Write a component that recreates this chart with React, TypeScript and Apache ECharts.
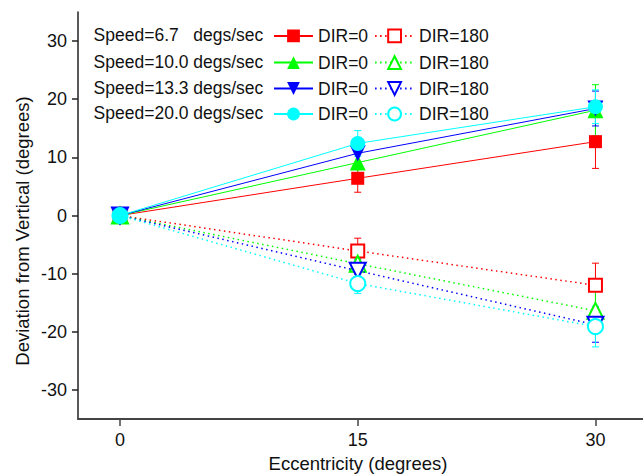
import React, { useEffect, useRef } from "react";
import * as echarts from "echarts";

const eccentricity = [0, 15, 30];
const speedLabels = ["Speed=6.7", "Speed=10.0", "Speed=13.3", "Speed=20.0"];
const speedUnit = "degs/sec";
const colors = ["#ff0000", "#00ff00", "#0000ff", "#00ffff"];
const filledSymbols = ["rect", "triangle", "triangle", "circle"];
const emptySymbols = ["emptyRect", "emptyTriangle", "emptyTriangle", "emptyCircle"];
const symbolRotations = [0, 0, 180, 0];
const symbolSizes = [13, 16, 16, 15];

// DIR = 0 means
const dir0Speed67 = [0, 6.4, 12.7];
const dir0Speed100 = [0, 9.1, 18.1];
const dir0Speed133 = [0, 10.7, 18.4];
const dir0Speed200 = [0, 12.4, 18.7];
// DIR = 180 means
const dir180Speed67 = [0, -6.1, -12.0];
const dir180Speed100 = [0, -8.3, -16.4];
const dir180Speed133 = [0, -9.5, -18.8];
const dir180Speed200 = [0, -11.7, -19.1];
// errors
const err0Speed67 = [0.5, 2.4, 4.6];
const err0Speed100 = [0.5, 1.8, 4.4];
const err0Speed133 = [0.5, 2.0, 3.0];
const err0Speed200 = [0.5, 2.2, 2.9];
const err180Speed67 = [0.5, 2.2, 3.8];
const err180Speed100 = [0.5, 1.8, 3.5];
const err180Speed133 = [0.5, 2.0, 3.0];
const err180Speed200 = [0.5, 1.7, 3.5];

const yTicks = [-30, -20, -10, 0, 10, 20, 30];
const xTicks = [0, 15, 30];
const yTitle = "Deviation from Vertical (degrees)";
const xTitle = "Eccentricity (degrees)";

const dir0Means = [dir0Speed67, dir0Speed100, dir0Speed133, dir0Speed200];
const dir180Means = [dir180Speed67, dir180Speed100, dir180Speed133, dir180Speed200];
const dir0Errs = [err0Speed67, err0Speed100, err0Speed133, err0Speed200];
const dir180Errs = [err180Speed67, err180Speed100, err180Speed133, err180Speed200];

const FONT = "'Liberation Sans', Arial, sans-serif";

export default function App() {
  const ref = useRef<HTMLDivElement>(null);
  useEffect(() => {
    if (!ref.current) return;
    const chart = echarts.init(ref.current, null, { renderer: "svg" });

    const series: any[] = [];
    const errorSeries = (means: number[], errs: number[], color: string) => ({
      type: "custom",
      silent: true,
      z: 1,
      data: eccentricity.map((x, i) => [x, means[i] - errs[i], means[i] + errs[i]]),
      encode: { x: 0, y: [1, 2] },
      renderItem: (params: any, api: any) => {
        const lo = api.coord([api.value(0), api.value(1)]);
        const hi = api.coord([api.value(0), api.value(2)]);
        const hw = 3.5;
        const st = { stroke: color, lineWidth: 1 };
        return {
          type: "group",
          children: [
            { type: "line", shape: { x1: lo[0], y1: lo[1], x2: hi[0], y2: hi[1] }, style: st },
            { type: "line", shape: { x1: lo[0] - hw, y1: lo[1], x2: lo[0] + hw, y2: lo[1] }, style: st },
            { type: "line", shape: { x1: hi[0] - hw, y1: hi[1], x2: hi[0] + hw, y2: hi[1] }, style: st },
          ],
        };
      },
    });

    for (let s = 0; s < 4; s++) {
      series.push(errorSeries(dir0Means[s], dir0Errs[s], colors[s]));
      series.push(errorSeries(dir180Means[s], dir180Errs[s], colors[s]));
    }
    const legends: any[] = [];
    for (let s = 0; s < 4; s++) {
      const c = colors[s];
      const n0 = `${speedLabels[s]}|0`;
      const n180 = `${speedLabels[s]}|180`;
      series.push({
        type: "line",
        name: n180,
        data: eccentricity.map((x, i) => [x, dir180Means[s][i]]),
        symbol: emptySymbols[s],
        symbolSize: symbolSizes[s],
        symbolRotate: symbolRotations[s],
        lineStyle: { color: c, width: 1.5, type: [1.5, 3.5] },
        itemStyle: { color: c, borderColor: c, borderWidth: 1.5 },
        z: 2 + s,
      });
      series.push({
        type: "line",
        name: n0,
        data: eccentricity.map((x, i) => [x, dir0Means[s][i]]),
        symbol: filledSymbols[s],
        symbolSize: symbolSizes[s],
        symbolRotate: symbolRotations[s],
        lineStyle: { color: c, width: 1 },
        itemStyle: { color: c, borderWidth: 0 },
        z: 2 + s,
      });
      legends.push({
        data: [n0, n180],
        left: 273,
        top: [26.9, 53.6, 79.5, 105][s],
        padding: 0,
        itemWidth: 39,
        itemHeight: 16,
        itemGap: 6,
        selectedMode: false,
        formatter: (name: string) => (name.endsWith("|0") ? "DIR=0" : "DIR=180"),
        textStyle: { fontSize: 17.5, color: "#111", fontFamily: FONT },
      });
    }

    const rowY = [34.9, 61.6, 87.5, 113];
    const graphics: any[] = [];
    for (let s = 0; s < 4; s++) {
      graphics.push({
        type: "text",
        x: 93.6,
        y: rowY[s],
        style: { text: speedLabels[s], fontSize: 17.5, fontFamily: FONT, fill: "#111", verticalAlign: "middle" },
      });
      graphics.push({
        type: "text",
        x: 193.3,
        y: rowY[s],
        style: { text: speedUnit, fontSize: 17.5, fontFamily: FONT, fill: "#111", verticalAlign: "middle" },
      });
    }
    graphics.push({
      type: "text",
      x: 22.7,
      y: 231,
      rotation: Math.PI / 2,
      style: { text: yTitle, fontSize: 18.5, fontFamily: FONT, fill: "#111", align: "center", verticalAlign: "middle" },
    });
    graphics.push({
      type: "text",
      x: 358,
      y: 463,
      style: { text: xTitle, fontSize: 18.5, fontFamily: FONT, fill: "#111", align: "center", verticalAlign: "middle" },
    });

    chart.setOption({
      animation: false,
      backgroundColor: "#fff",
      grid: { left: 78, right: 0, top: 12, bottom: 56, containLabel: false },
      xAxis: {
        type: "value",
        min: -2.65,
        max: 33,
        axisLine: { show: true, onZero: false, lineStyle: { color: "#444", width: 2 } },
        axisTick: { show: true, length: 7, customValues: xTicks, lineStyle: { color: "#444", width: 1.5 } },
        axisLabel: { customValues: xTicks, fontSize: 18, color: "#111", margin: 12, fontFamily: FONT },
        splitLine: { show: false },
      },
      yAxis: {
        type: "value",
        min: -35,
        max: 35,
        axisLine: { show: true, onZero: false, lineStyle: { color: "#222", width: 1.5 } },
        axisTick: { show: true, length: 6, customValues: yTicks, lineStyle: { color: "#222", width: 1.5 } },
        axisLabel: { customValues: yTicks, fontSize: 18, color: "#111", margin: 11, fontFamily: FONT },
        splitLine: { show: false },
      },
      legend: legends,
      graphic: graphics,
      series,
    });
    return () => chart.dispose();
  }, []);
  return (
    <div
      ref={ref}
      style={{ position: "fixed", left: 0, top: 0, width: 643, height: 475, background: "#fff" }}
    />
  );
}
